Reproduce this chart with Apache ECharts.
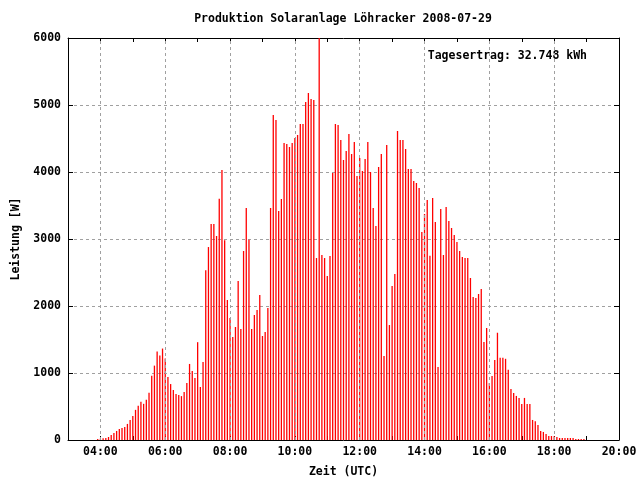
<!DOCTYPE html>
<html>
<head>
<meta charset="utf-8">
<script src="https://cdn.jsdelivr.net/npm/echarts@6/dist/echarts.min.js"></script>
<style>html,body{margin:0;padding:0;background:#fff;}#c{width:640px;height:480px;}</style>
</head>
<body>
<div id="c"></div>
<script>
// Sample clock: first sample 03:55, one sample every 5 minutes
const startMinute = 235;
const stepMinutes = 5;
// Power readings [W]
const power = [
  15, 20, 25, 30, 45, 75, 105, 135, 165, 180,
  195, 240, 300, 360, 450, 510, 570, 540, 600, 705,
  960, 1110, 1320, 1260, 1365, 1215, 940, 835, 745, 685,
  670, 655, 715, 850, 1135, 1030, 925, 1460, 790, 1165,
  2535, 2880, 3225, 3225, 3045, 3600, 4030, 2980, 2090, 1820,
  1537, 1687, 2373, 1657, 2821, 3463, 2990, 1657, 1866, 1940,
  2164, 1552, 1612, 1970, 3463, 4851, 4776, 3418, 3597, 4433,
  4418, 4373, 4433, 4507, 4552, 4716, 4716, 5045, 5179, 5090,
  5075, 2716, 6200, 2761, 2716, 2448, 2746, 3985, 4716, 4701,
  4478, 4179, 4313, 4567, 4269, 4448, 3940, 4209, 4015, 4194,
  4448, 4000, 3463, 3194, 4075, 4269, 1254, 4403, 1716, 2299,
  2478, 4612, 4478, 4478, 4343, 4045, 4045, 3866, 3836, 3761,
  3104, 3373, 3582, 2751, 3612, 3254, 1090, 3448, 2761, 3478,
  3269, 3164, 3060, 2955, 2821, 2731, 2716, 2716, 2418, 2134,
  2119, 2179, 2254, 1463, 1672, 851, 955, 1194, 1601, 1227,
  1227, 1212, 1047, 763, 703, 658, 628, 538, 628, 538,
  538, 299, 279, 224, 135, 120, 90, 60, 60, 55,
  45, 30, 30, 30, 30, 30, 30, 15, 15, 15,
  15
];
const gridHours = [4, 6, 8, 10, 12, 14, 16, 18];
const titleText = 'Produktion Solaranlage Löhracker 2008-07-29';
const yieldText = 'Tagesertrag: 32.748 kWh';
const xName = 'Zeit (UTC)';
const yName = 'Leistung [W]';

const FONT = '"DejaVu Sans Mono", monospace';
const FS = 11.5;

const seriesData = power.map((v, i) => [startMinute + i * stepMinutes, v]);
const pad = n => (n < 10 ? '0' : '') + n;
const xFmt = v => {
  const h = Math.round(v / 60);
  return h % 2 === 0 ? pad(h) + ':00' : '';
};

const chart = echarts.init(document.getElementById('c'), null, {renderer: 'canvas'});
const axisLineStyle = {color: '#000', width: 1};
const baseX = {
  type: 'value', min: 180, max: 1200, interval: 60,
  axisLine: {show: true, onZero: false, lineStyle: axisLineStyle},
  axisTick: {show: true, inside: true, length: 4, lineStyle: {color: '#000'}},
  splitLine: {show: false}
};
const baseY = {
  type: 'value', min: 0, max: 6000, interval: 1000,
  axisLine: {show: true, onZero: false, lineStyle: axisLineStyle},
  axisTick: {show: true, inside: true, length: 5, lineStyle: {color: '#000'}}
};
chart.setOption({
  animation: false,
  backgroundColor: '#fff',
  grid: {left: 68, right: 21, top: 38, bottom: 40, containLabel: false, outerBoundsMode: 'none'},
  xAxis: [
    Object.assign({}, baseX, {
      position: 'bottom',
      name: xName, nameLocation: 'middle', nameGap: 26,
      nameTextStyle: {fontFamily: FONT, fontSize: FS, fontWeight: 'bold', color: '#000'},
      axisLabel: {show: true, formatter: xFmt, margin: 6, showMinLabel: true, showMaxLabel: true,
        fontFamily: FONT, fontSize: FS, fontWeight: 'bold', color: '#000'}
    }),
    Object.assign({}, baseX, {position: 'top', axisLabel: {show: false}})
  ],
  yAxis: [
    Object.assign({}, baseY, {
      position: 'left',
      name: yName, nameLocation: 'middle', nameGap: 45,
      nameTextStyle: {fontFamily: FONT, fontSize: FS, fontWeight: 'bold', color: '#000'},
      axisLabel: {show: true, margin: 7, formatter: v => String(v),
        fontFamily: FONT, fontSize: FS, fontWeight: 'bold', color: '#000'},
      splitLine: {show: true, lineStyle: {color: '#a0a0a0', width: 1, type: [3, 3]}}
    }),
    Object.assign({}, baseY, {position: 'right', axisLabel: {show: false}, splitLine: {show: false}})
  ],
  series: [
    {
      type: 'line', xAxisIndex: 0, yAxisIndex: 0, data: [], z: 1, silent: true,
      markLine: {
        silent: true, symbol: 'none', label: {show: false},
        lineStyle: {color: '#a0a0a0', width: 1, type: [3, 3]},
        data: gridHours.map(h => ({xAxis: h * 60}))
      }
    },
    {
      type: 'bar', xAxisIndex: 0, yAxisIndex: 0, data: seriesData, z: 3,
      barWidth: 1.3, itemStyle: {color: '#ff0000'}, clip: true
    }
  ],
  graphic: [
    {type: 'text', x: 343, y: 19, style: {text: titleText, align: 'center', verticalAlign: 'middle',
      font: 'bold ' + FS + 'px ' + FONT, fill: '#000'}},
    {type: 'text', x: 587, y: 56, style: {text: yieldText, align: 'right', verticalAlign: 'middle',
      font: 'bold ' + FS + 'px ' + FONT, fill: '#000'}}
  ]
});
</script>
</body>
</html>
